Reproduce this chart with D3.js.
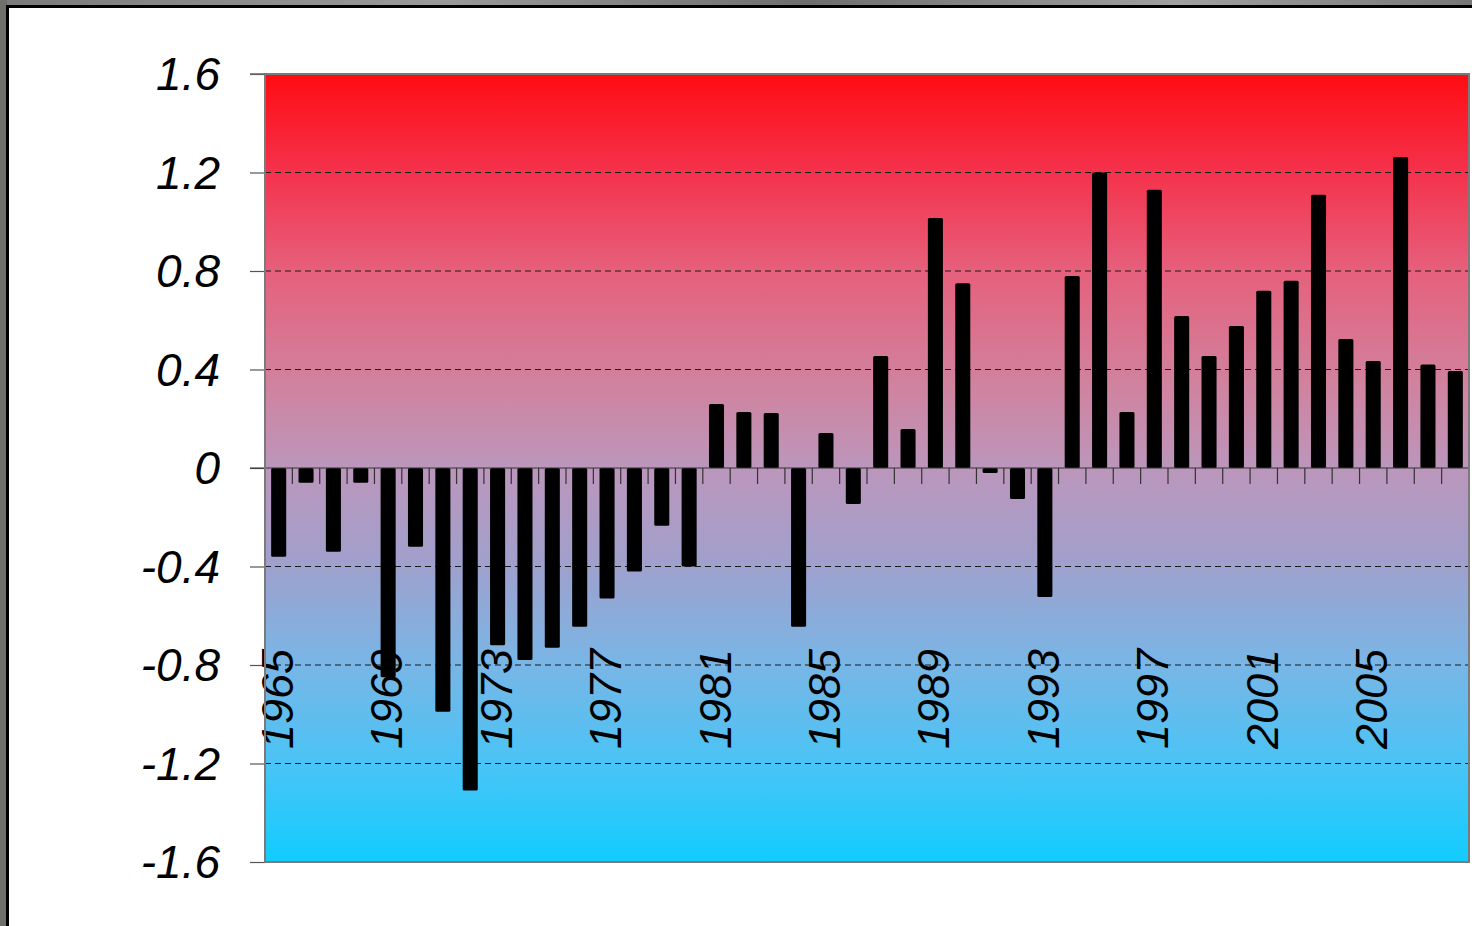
<!DOCTYPE html>
<html>
<head>
<meta charset="utf-8">
<script src="https://cdn.jsdelivr.net/npm/d3@7/dist/d3.min.js"></script>
<style>
  html, body { margin: 0; padding: 0; background: #ffffff; }
  svg { display: block; }
  text { font-family: "Liberation Sans", Arial, sans-serif; font-style: italic; }
</style>
</head>
<body>
<svg id="chart" width="1472" height="926"></svg>
<script>
// Annual anomaly values, 1965–2008
const years = d3.range(1965, 2009);
const anomalies = [
  -0.36, -0.06, -0.34, -0.06, -0.85, -0.32, -0.99, -1.31, -0.72, -0.78,
  -0.73, -0.645, -0.53, -0.42, -0.235, -0.40, 0.26, 0.227, 0.223, -0.645,
  0.142, -0.146, 0.455, 0.158, 1.015, 0.75, -0.02, -0.126, -0.524, 0.78,
  1.20, 0.227, 1.13, 0.617, 0.455, 0.577, 0.72, 0.76, 1.11, 0.524,
  0.435, 1.263, 0.42, 0.394
];
const yTicks = [-1.6, -1.2, -0.8, -0.4, 0, 0.4, 0.8, 1.2, 1.6];
const yearLabels = [1965, 1969, 1973, 1977, 1981, 1985, 1989, 1993, 1997, 2001, 2005];

const svg = d3.select("#chart");
const W = 1472, H = 926;
const plot = { left: 265, right: 1469, top: 74, bottom: 862 };

// outer frame
const defs = svg.append("defs");
const frameGrad = defs.append("linearGradient").attr("id", "frame")
  .attr("x1", 0).attr("y1", 0).attr("x2", 1).attr("y2", 0);
[["0%", "#7a7a7a"], ["30%", "#9a9a9a"], ["55%", "#6e6e6e"], ["80%", "#a0a0a0"], ["100%", "#777"]]
  .forEach(([o, c]) => frameGrad.append("stop").attr("offset", o).attr("stop-color", c));
svg.append("rect").attr("x", 0).attr("y", 0).attr("width", W).attr("height", 6).attr("fill", "url(#frame)");
svg.append("rect").attr("x", 0).attr("y", 0).attr("width", 7).attr("height", H).attr("fill", "#6f6f6b");
svg.append("rect").attr("x", 6).attr("y", 5).attr("width", W - 6).attr("height", 3).attr("fill", "#000");
svg.append("rect").attr("x", 6).attr("y", 5).attr("width", 3).attr("height", H - 5).attr("fill", "#000");

// background gradient of the plot area
const bg = defs.append("linearGradient").attr("id", "bg")
  .attr("x1", 0).attr("y1", 0).attr("x2", 0).attr("y2", 1);
[["0%", "#ff0c12"], ["12%", "#f5304a"], ["25%", "#e6607c"], ["40%", "#cf84a0"],
 ["50%", "#bc96bc"], ["62%", "#a0a0cc"], ["75%", "#78b6e6"], ["88%", "#48c4f6"], ["100%", "#12ccff"]]
  .forEach(([o, c]) => bg.append("stop").attr("offset", o).attr("stop-color", c));

const x = d3.scaleBand().domain(years).range([plot.left, plot.right]).paddingInner(0.45).paddingOuter(0.225);
const xb = d3.scaleBand().domain(years).range([plot.left, plot.right]);
const y = d3.scaleLinear().domain([-1.6, 1.6]).range([plot.bottom, plot.top]);

svg.append("rect")
  .attr("x", plot.left).attr("y", plot.top)
  .attr("width", plot.right - plot.left).attr("height", plot.bottom - plot.top)
  .attr("fill", "url(#bg)");

// dashed gridlines
svg.append("g").selectAll("line")
  .data(yTicks.filter(v => v !== 0 && Math.abs(v) < 1.6))
  .join("line")
  .attr("x1", plot.left).attr("x2", plot.right)
  .attr("y1", d => y(d)).attr("y2", d => y(d))
  .attr("stroke", "#1a1a1a").attr("stroke-width", 1).attr("stroke-dasharray", "6,4");

// y axis
const yAxis = d3.axisLeft(y).tickValues(yTicks).tickSize(15).tickPadding(30)
  .tickFormat(d => d === 0 ? "0" : d3.format(".1f")(d).replace("\u2212", "-"));
const gy = svg.append("g").attr("transform", `translate(${plot.left},0)`).call(yAxis);
gy.select(".domain").remove();
gy.selectAll(".tick line").attr("stroke", "#555").attr("stroke-width", 1.2);
gy.selectAll(".tick text")
  .attr("font-size", 46).attr("fill", "#000")
  .attr("font-family", "'Liberation Sans', Arial, sans-serif")
  .attr("font-style", "italic").attr("dy", "0.34em");

// bars
svg.append("g").selectAll("rect")
  .data(years.map((yr, i) => ({ yr, v: anomalies[i] })))
  .join("rect")
  .attr("x", d => x(d.yr))
  .attr("width", x.bandwidth())
  .attr("y", d => y(Math.max(0, d.v)))
  .attr("height", d => Math.max(2, Math.abs(y(d.v) - y(0))))
  .attr("rx", 1.5)
  .attr("fill", "#000");

// x axis line at zero with category boundary ticks
svg.append("line")
  .attr("x1", plot.left - 15).attr("x2", plot.right)
  .attr("y1", y(0)).attr("y2", y(0))
  .attr("stroke", "#333").attr("stroke-width", 1.2);
svg.append("g").selectAll("line")
  .data(years.slice(1).concat([null]))
  .join("line")
  .attr("x1", (d, i) => xb(years[0]) + xb.bandwidth() * (i + 1))
  .attr("x2", (d, i) => xb(years[0]) + xb.bandwidth() * (i + 1))
  .attr("y1", y(0)).attr("y2", y(0) + 16)
  .attr("stroke", "#333").attr("stroke-width", 1.2);

// year labels
svg.append("g").selectAll("text")
  .data(yearLabels)
  .join("text")
  .attr("transform", d => `translate(${xb(d) + xb.bandwidth() / 2 + 14},649) rotate(-90)`)
  .attr("text-anchor", "end")
  .attr("font-size", 45)
  .attr("fill", "#000")
  .text(d => d);

// plot frame
svg.append("rect")
  .attr("x", plot.left).attr("y", plot.top)
  .attr("width", plot.right - plot.left).attr("height", plot.bottom - plot.top)
  .attr("fill", "none").attr("stroke", "#7a7a7a").attr("stroke-width", 2);
svg.append("line")
  .attr("x1", plot.left - 15).attr("x2", plot.left)
  .attr("y1", plot.top).attr("y2", plot.top)
  .attr("stroke", "#666").attr("stroke-width", 1.5);
</script>
</body>
</html>
